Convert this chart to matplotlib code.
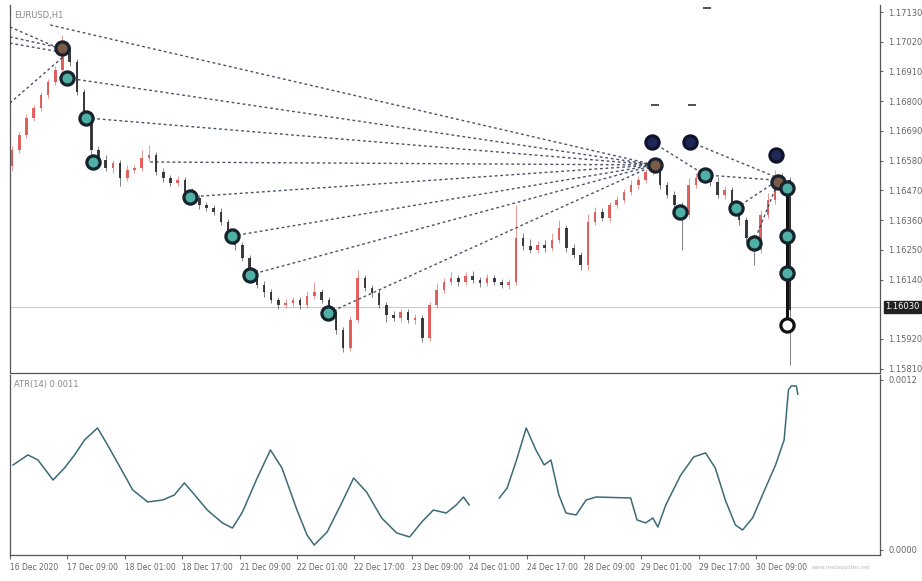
"""EURUSD H1 chart with ATR sub-window, MT-style."""

import numpy as np
import matplotlib
matplotlib.use("Agg")
import matplotlib.pyplot as plt

# ── Data (2-hour candles) ────────────────────────────────────────────────────

first_open = 1.16560
closes = [
    1.16619, 1.16675, 1.16738, 1.16775, 1.16823, 1.16871, 1.16915, 1.16997, 1.16945, 1.16834, 1.16749, 1.16619,
    1.16582, 1.16553, 1.16571, 1.16516, 1.16545, 1.16553, 1.16590, 1.16601, 1.16538, 1.16516, 1.16497, 1.16508,
    1.16464, 1.16442, 1.16416, 1.16405, 1.16390, 1.16353, 1.16316, 1.16268, 1.16220, 1.16168, 1.16120, 1.16094,
    1.16064, 1.16046, 1.16053, 1.16064, 1.16046, 1.16079, 1.16094, 1.16064, 1.16020, 1.15953, 1.15887, 1.15990,
    1.16146, 1.16109, 1.16090, 1.16046, 1.16009, 1.15998, 1.16020, 1.15990, 1.15998, 1.15924, 1.16046, 1.16101,
    1.16131, 1.16146, 1.16131, 1.16153, 1.16138, 1.16127, 1.16146, 1.16131, 1.16120, 1.16131, 1.16294, 1.16264,
    1.16249, 1.16268, 1.16257, 1.16286, 1.16331, 1.16257, 1.16231, 1.16194, 1.16353, 1.16390, 1.16368, 1.16416,
    1.16434, 1.16464, 1.16490, 1.16508, 1.16538, 1.16564, 1.16490, 1.16453, 1.16416, 1.16379, 1.16490, 1.16516,
    1.16527, 1.16501, 1.16453, 1.16471, 1.16416, 1.16360, 1.16294, 1.16249, 1.16379, 1.16434, 1.16516, 1.16508,
    1.16027,
]
# wick lengths in points (1e-5)
upper_wick = [
    15, 12, 14, 10, 12, 10, 14, 48, 12, 10, 12, 10,
    14, 18, 10, 12, 18, 10, 30, 35, 10, 14, 10, 14,
    10, 14, 10, 12, 10, 14, 10, 14, 10, 12, 10, 14,
    12, 10, 16, 12, 10, 20, 35, 12, 10, 12, 10, 15,
    30, 12, 10, 14, 10, 16, 12, 10, 14, 10, 12, 25,
    16, 20, 12, 16, 20, 12, 16, 12, 10, 12, 122, 18,
    25, 16, 20, 25, 30, 12, 16, 10, 30, 18, 16, 12,
    16, 12, 20, 16, 12, 18, 25, 12, 16, 10, 25, 20,
    16, 12, 20, 16, 12, 10, 12, 16, 20, 25, 30, 18,
    10,
]
lower_wick = [
    20, 12, 10, 12, 10, 12, 10, 12, 16, 12, 10, 25,
    12, 10, 20, 30, 12, 10, 12, 10, 12, 16, 10, 12,
    12, 10, 16, 12, 10, 12, 20, 20, 12, 16, 10, 20,
    12, 16, 10, 12, 16, 10, 12, 10, 12, 16, 15, 12,
    10, 12, 16, 12, 25, 12, 16, 12, 16, 15, 12, 10,
    12, 10, 16, 12, 10, 16, 12, 10, 12, 16, 12, 16,
    10, 12, 16, 10, 12, 16, 12, 20, 20, 12, 10, 16,
    12, 10, 12, 16, 10, 12, 16, 12, 25, 130, 12, 10,
    12, 16, 10, 16, 12, 20, 16, 55, 12, 10, 16, 12,
    203,
]

# Markers: (candle index, price, kind)
marker_idx = [7.0, 7.6, 10.3, 11.25, 24.7, 30.6, 33.0, 43.9, 89.3, 88.9, 94.2,
              96.25, 92.8, 100.6, 103.0, 106.1, 106.4, 107.6, 107.6, 107.6, 107.6]
marker_px = [1.16997, 1.16886, 1.16738, 1.16575, 1.16446, 1.16301, 1.16157, 1.16016,
             1.16564, 1.16649, 1.16649, 1.16527, 1.16390, 1.16405, 1.16275, 1.16601,
             1.16501, 1.16479, 1.16301, 1.16164, 1.15972]
marker_kind = ["brown", "teal", "teal", "teal", "teal", "teal", "teal", "teal",
               "brown", "navy", "navy", "teal", "teal", "teal", "teal", "navy",
               "brown", "teal", "teal", "teal", "white"]

# Dotted connection lines: (i0, p0, i1, p1)
line_i0 = [5.3, 7.6, 10.3, 19.2, 24.7, 30.6, 33.0, 43.9,
           -0.3, -0.3, -0.3, -0.3,
           88.9, 94.2, 96.25, 100.6, 103.0]
line_p0 = [1.17082, 1.16886, 1.16738, 1.16575, 1.16446, 1.16301, 1.16157, 1.16016,
           1.17075, 1.17038, 1.17015, 1.16793,
           1.16649, 1.16649, 1.16527, 1.16405, 1.16275]
line_i1 = [89.3] * 8 + [7.1, 6.7, 6.7, 7.1] + [96.25, 106.4, 106.0, 106.0, 106.4]
line_p1 = [1.16564] * 8 + [1.16989, 1.16997, 1.16982, 1.16964] + \
          [1.16527, 1.16516, 1.16508, 1.16501, 1.16501]

current_price = 1.16039

# ATR sub-window (read points, NaN = gap)
atr_idx = [-0.28, 1.8, 3.2, 5.3, 6.9, 8.3, 9.7, 11.5, 12.9, 14.7, 16.4, 18.5, 20.6,
           22.2, 23.6, 24.7, 26.8, 28.9, 30.3, 31.7, 33.75, 35.6, 37.2, 39.3, 40.7,
           41.7, 43.5, 45.6, 47.2, 49.0, 51.1, 53.2, 55.0, 56.7, 58.3, 60.1, 61.5,
           62.5, 63.3, 65.0, 67.5, 68.6, 69.9, 71.25, 72.6, 73.75, 74.7, 75.8, 76.8,
           78.2, 79.6, 81.0, 85.8, 86.7, 87.9, 88.9, 89.6, 90.7, 92.8, 94.6, 96.25,
           97.6, 99.0, 100.4, 101.4, 102.8, 104.6, 106.0, 107.2, 107.8, 108.2, 108.9, 109.1]
atr_val = [6.0, 6.71, 6.35, 4.94, 5.79, 6.71, 7.77, 8.61, 7.41, 5.79, 4.24, 3.39, 3.53,
           3.88, 4.73, 4.09, 2.82, 1.91, 1.55, 2.68, 5.08, 7.06, 5.79, 2.82, 1.06,
           0.35, 1.27, 3.39, 5.08, 4.09, 2.26, 1.20, 0.92, 1.98, 2.82, 2.61, 3.18,
           3.74, 3.18, np.nan, 3.67, 4.38, 6.35, 8.61, 7.06, 6.00, 6.35, 3.88, 2.61,
           2.47, 3.53, 3.74, 3.67, 2.12, 1.91, 2.26, 1.62, 3.18, 5.30, 6.57, 6.85,
           5.79, 3.53, 1.77, 1.41, 2.26, 4.38, 6.00, 7.77, 11.30, 11.58, 11.58, 11.0]

tick_idx = [-0.7 + 8 * k for k in range(14)]
tick_labels = ["16 Dec 2020", "17 Dec 09:00", "18 Dec 01:00", "18 Dec 17:00",
               "21 Dec 09:00", "22 Dec 01:00", "22 Dec 17:00", "23 Dec 09:00",
               "24 Dec 01:00", "24 Dec 17:00", "28 Dec 09:00", "29 Dec 01:00",
               "29 Dec 17:00", "30 Dec 09:00"]
price_ticks = [1.17130, 1.17020, 1.16910, 1.16800, 1.16690, 1.16580, 1.16470,
               1.16360, 1.16250, 1.16140, 1.15920, 1.15810]

# ── Styles ───────────────────────────────────────────────────────────────────

UP = "#e0524f"
DOWN = "#2b2b2b"
AXIS = "#555555"
TXT = "#666666"
DOT = "#2a3550"
STYLES = {
    "teal": dict(mfc="#4fb0a5", mec="#16222c"),
    "navy": dict(mfc="#1f2757", mec="#10142a"),
    "brown": dict(mfc="#7a5a48", mec="#1a2230"),
    "white": dict(mfc="#ffffff", mec="#111111"),
}

fig = plt.figure(figsize=(9.22, 5.81), dpi=100)
fig.patch.set_facecolor("white")
ax = fig.add_axes([10 / 922, 1 - 373 / 581, 870 / 922, 368 / 581])
ax2 = fig.add_axes([10 / 922, 1 - 555 / 581, 870 / 922, 180 / 581])

XLIM = (-0.28, 120.56)

# ── Price panel ──────────────────────────────────────────────────────────────

closes_a = np.array(closes)
opens_a = np.concatenate([[first_open], closes_a[:-1]])
idx = np.arange(len(closes_a))
top = np.maximum(opens_a, closes_a)
bot = np.minimum(opens_a, closes_a)
highs = top + np.array(upper_wick) * 1e-5
lows = bot - np.array(lower_wick) * 1e-5
colors = [UP if c >= o else DOWN for o, c in zip(opens_a, closes_a)]

ax.axhline(current_price, color="#cccccc", lw=0.8, zorder=1)
ax.vlines(idx, lows, highs, colors=colors, lw=0.7, alpha=0.6, zorder=2)
ax.bar(idx, np.maximum(top - bot, 2e-5), bottom=bot, width=0.36, color=colors,
       alpha=0.9, zorder=3, linewidth=0)

for i0, p0, i1, p1 in zip(line_i0, line_p0, line_i1, line_p1):
    ax.plot([i0, i1], [p0, p1], color=DOT, lw=1.0, ls=(0, (2, 2)), alpha=0.85, zorder=4)

# heavy drop line on the last bar
ax.plot([107.6, 107.6], [marker_px[17], marker_px[20]], color="#111111", lw=2.2, zorder=5)

for mi, mp, kind in zip(marker_idx, marker_px, marker_kind):
    ax.plot(mi, mp, "o", ms=9.5, mew=2.3, zorder=6, **STYLES[kind])

ax.plot([89.3, 94.5, 96.5], [1.16786, 1.16786, 1.17145], "_", color="#333333",
        ms=6, mew=1.2, zorder=6)

ax.set_xlim(*XLIM)
ax.set_ylim(1.15794, 1.17156)
ax.set_xticks([])
ax.yaxis.tick_right()
ax.set_yticks(price_ticks)
ax.set_yticklabels([f"{p:.5f}" for p in price_ticks])
ax.tick_params(axis="y", labelsize=6, colors=TXT, length=2, pad=4)
for side in ("left", "right", "bottom"):
    ax.spines[side].set_color(AXIS)
    ax.spines[side].set_linewidth(0.9)
ax.spines["top"].set_visible(False)

ax.text(1.006, current_price, f"{1.16030:.5f}", transform=ax.get_yaxis_transform(),
        fontsize=6, color="white", va="center", ha="left",
        bbox=dict(boxstyle="square,pad=0.2", fc="#222222", ec="#222222"))
ax.text(0.005, 0.985, "EURUSD,H1", transform=ax.transAxes, fontsize=6,
        color="#888888", va="top", ha="left")

# ── ATR panel ────────────────────────────────────────────────────────────────

ax2.plot(atr_idx, np.array(atr_val) * 1e-4, color="#3b6a78", lw=1.1)
ax2.set_xlim(*XLIM)
ax2.set_ylim(-0.0000353, 0.001235)
ax2.yaxis.tick_right()
ax2.set_yticks([0.0, 0.0012])
ax2.set_yticklabels(["0.0000", "0.0012"])
ax2.tick_params(axis="y", labelsize=6, colors=TXT, length=2, pad=4)
ax2.set_xticks(tick_idx)
ax2.set_xticklabels(tick_labels, ha="left")
ax2.tick_params(axis="x", labelsize=5.5, colors=TXT, length=3, pad=3)
for side in ("left", "right", "bottom"):
    ax2.spines[side].set_color(AXIS)
    ax2.spines[side].set_linewidth(0.9)
ax2.spines["top"].set_visible(False)
ax2.text(0.005, 0.97, "ATR(14) 0.0011", transform=ax2.transAxes, fontsize=6,
         color="#888888", va="top", ha="left")
fig.text(812 / 922, 1 - 567 / 581, "www.metaquotes.net", fontsize=4,
         color="#bbbbbb", va="center", ha="left")

fig.savefig("out.png", dpi=100, facecolor="white")
